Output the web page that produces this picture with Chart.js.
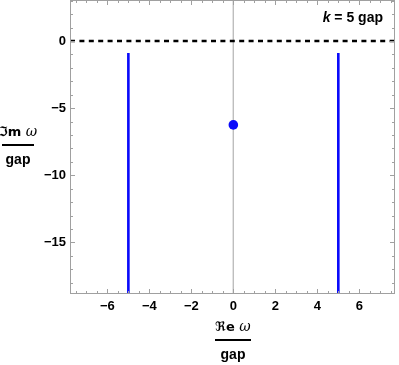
<!DOCTYPE html>
<html>
<head>
<meta charset="utf-8">
<script src="https://cdn.jsdelivr.net/npm/chart.js@4"></script>
<style>
  html, body { margin: 0; padding: 0; background: #fff; }
  #c { display: block; }
</style>
</head>
<body>
<canvas id="c" width="399" height="365"></canvas>
<script>
// ---- data ----
const xRange = [-7.78, 7.70];
const yRange = [-18.84, 3.05];
const xTickValues = [-6, -4, -2, 0, 2, 4, 6];
const yTickValues = [0, -5, -10, -15];
const continuumRe = [-5, 5];        // branch cuts at Re ω = ±k
const continuumTop = -0.9;          // top end of each cut
const continuumBottom = -25;        // runs off the bottom of the frame
const poleRe = [0];
const poleIm = [-6.25];
const referenceIm = 0;              // dashed line
const referenceRe = 0;              // thin grey line
const annotation = { k: 'k', rest: ' = 5 gap' };

const BLUE = 'rgb(10,10,250)';
const FRAME = 'rgb(160,160,160)';

const datasets = [];
datasets.push({
  data: [{ x: xRange[0], y: referenceIm }, { x: xRange[1], y: referenceIm }],
  showLine: true, borderColor: '#000', borderWidth: 2.6, borderDash: [5, 4.4],
  pointRadius: 0, order: 1
});
datasets.push({
  data: [{ x: referenceRe, y: yRange[1] }, { x: referenceRe, y: yRange[0] }],
  showLine: true, borderColor: 'rgb(190,190,190)', borderWidth: 1,
  pointRadius: 0, order: 3
});
continuumRe.forEach(re => {
  datasets.push({
    data: [{ x: re, y: continuumTop }, { x: re, y: continuumBottom }],
    showLine: true, borderColor: BLUE, borderWidth: 2.6,
    pointRadius: 0, order: 2
  });
});
datasets.push({
  data: poleRe.map((re, i) => ({ x: re, y: poleIm[i] })),
  showLine: false, backgroundColor: BLUE, borderColor: BLUE,
  pointRadius: 4.8, borderWidth: 0, order: 0
});

const minus = v => String(v).replace('-', '\u2212');

const framePlugin = {
  id: 'frame',
  afterDatasetsDraw(chart) {
    const { ctx, chartArea: a, scales: { x, y } } = chart;
    ctx.save();
    ctx.strokeStyle = FRAME;
    ctx.lineWidth = 1;
    for (let v = -7.5; v <= 7.5 + 1e-9; v += 0.5) {
      const px = Math.round(x.getPixelForValue(v)) + 0.5;
      const major = Math.abs(v % 2) < 1e-9;
      const len = major ? 5 : 3;
      ctx.beginPath();
      ctx.moveTo(px, a.bottom); ctx.lineTo(px, a.bottom - len);
      ctx.moveTo(px, a.top); ctx.lineTo(px, a.top + len);
      ctx.stroke();
    }
    for (let v = 3; v >= -18; v -= 1) {
      const py = Math.round(y.getPixelForValue(v)) + 0.5;
      const major = v % 5 === 0;
      const len = major ? 5 : 3;
      ctx.beginPath();
      ctx.moveTo(a.left, py); ctx.lineTo(a.left + len, py);
      ctx.moveTo(a.right, py); ctx.lineTo(a.right - len, py);
      ctx.stroke();
    }
    ctx.strokeRect(Math.round(a.left) + 0.5, Math.round(a.top) + 0.5,
                   Math.round(a.right - a.left) - 1, Math.round(a.bottom - a.top) - 1);
    ctx.restore();
  },
  afterDraw(chart) {
    const { ctx } = chart;
    ctx.save();
    ctx.fillStyle = '#000';
    ctx.textBaseline = 'alphabetic';

    function fraction(cx, topBase, barY, botBase, half, top1, top2) {
      ctx.font = 'bold 13px "DejaVu Sans"';
      const w1 = ctx.measureText(top1 + ' ').width;
      ctx.font = 'italic 14px "DejaVu Serif"';
      const w2 = ctx.measureText(top2).width;
      let sx = cx - (w1 + w2) / 2;
      ctx.textAlign = 'left';
      ctx.font = 'bold 13px "DejaVu Sans"';
      ctx.fillText(top1 + ' ', sx, topBase);
      ctx.font = 'italic 14px "DejaVu Serif"';
      ctx.fillText(top2, sx + w1, topBase);
      ctx.fillRect(cx - half, barY - 1, half * 2, 2);
      ctx.font = 'bold 14px "Liberation Sans"';
      ctx.textAlign = 'center';
      ctx.fillText('gap', cx, botBase);
    }
    fraction(18, 136, 145, 164, 16, '\u2111m', '\u03c9');
    fraction(233, 331, 340, 359, 18, '\u211ce', '\u03c9');

    ctx.textAlign = 'left';
    ctx.font = 'bold 14px "Liberation Sans"';
    const wr = ctx.measureText(annotation.rest).width;
    ctx.font = 'italic bold 14px "Liberation Sans"';
    const wk = ctx.measureText(annotation.k).width;
    const right = 383;
    ctx.fillText(annotation.k, right - wr - wk, 22);
    ctx.font = 'bold 14px "Liberation Sans"';
    ctx.fillText(annotation.rest, right - wr, 22);
    ctx.restore();
  }
};

new Chart(document.getElementById('c'), {
  type: 'scatter',
  data: { datasets },
  options: {
    responsive: false,
    animation: false,
    devicePixelRatio: 1,
    layout: { autoPadding: false, padding: { left: 0, right: 4, top: 0, bottom: 0 } },
    plugins: { legend: { display: false }, tooltip: { enabled: false } },
    scales: {
      x: {
        type: 'linear', position: 'bottom',
        min: xRange[0], max: xRange[1],
        grid: { display: false, drawTicks: false }, border: { display: false },
        afterBuildTicks: s => { s.ticks = xTickValues.map(v => ({ value: v })); },
        afterFit: s => { s.height = 71; s.paddingLeft = 0; s.paddingRight = 0; },
        ticks: {
          color: '#000', padding: 5, maxRotation: 0, autoSkip: false,
          font: { family: '"Liberation Sans"', size: 13, weight: 'bold' },
          callback: v => minus(v)
        }
      },
      y: {
        type: 'linear', position: 'left',
        min: yRange[0], max: yRange[1],
        grid: { display: false, drawTicks: false }, border: { display: false },
        afterBuildTicks: s => { s.ticks = yTickValues.map(v => ({ value: v })); },
        afterFit: s => { s.width = 70; s.paddingTop = 0; s.paddingBottom = 0; },
        ticks: {
          color: '#000', padding: 4, autoSkip: false,
          font: { family: '"Liberation Sans"', size: 13, weight: 'bold' },
          callback: v => minus(v)
        }
      }
    }
  },
  plugins: [framePlugin]
});
</script>
</body>
</html>
